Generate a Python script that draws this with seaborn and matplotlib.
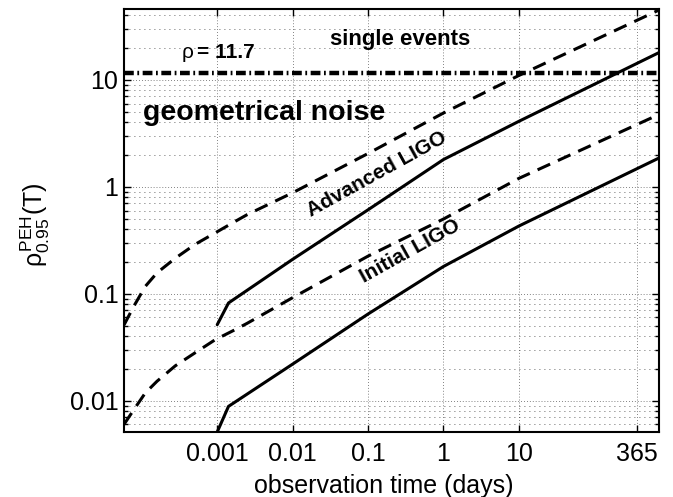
import numpy as np
import pandas as pd
import matplotlib
matplotlib.use('Agg')
import matplotlib.pyplot as plt
import seaborn as sns
from matplotlib.ticker import LogLocator, NullLocator, FixedLocator, FixedFormatter, NullFormatter

# observation time (days) and rho values
t_dashed = [5.8e-5, 7.8e-5, 1.11e-4, 1.59e-4, 2.78e-4, 5.1e-4, 9.4e-4, 1.73e-3, 2.5e-3, 0.01, 0.1, 1, 10, 720]
adv_dashed = [0.051, 0.076, 0.117, 0.157, 0.215, 0.290, 0.371, 0.475, 0.55, 0.88, 2.05, 4.9, 11.0, 45.0]
ini_dashed = [0.0060, 0.0082, 0.0118, 0.0152, 0.0212, 0.0281, 0.0372, 0.0462, 0.053, 0.092, 0.225, 0.50, 1.2, 4.75]

t_solid = [0.001, 0.00141, 0.01, 0.1, 1, 10, 720]
adv_solid = [0.0514, 0.082, 0.21, 0.61, 1.80, 4.1, 18.0]
ini_solid = [0.0051, 0.00885, 0.022, 0.0647, 0.180, 0.43, 1.86]

rho_threshold = 11.7

xticks = [0.001, 0.01, 0.1, 1, 10, 365]
xticklabels = ['0.001', '0.01', '0.1', '1', '10', '365']
yticks = [0.01, 0.1, 1, 10]
yticklabels = ['0.01', '0.1', '1', '10']

sns.set_style('ticks')
plt.rcParams['font.family'] = ['Liberation Sans', 'DejaVu Sans']
plt.rcParams['text.color'] = 'k'
plt.rcParams['axes.labelcolor'] = 'k'
plt.rcParams['xtick.color'] = 'k'
plt.rcParams['ytick.color'] = 'k'
plt.rcParams['mathtext.fontset'] = 'custom'
plt.rcParams['mathtext.rm'] = 'Liberation Sans'
plt.rcParams['mathtext.it'] = 'Liberation Sans'
plt.rcParams['mathtext.bf'] = 'Liberation Sans:bold'

fig = plt.figure(figsize=(6.73, 4.97), dpi=100)
ax = fig.add_axes([0.1842, 0.1308, 0.795, 0.8511])
ax.set_xscale('log')
ax.set_yscale('log')

dash = (0, (4.5, 2.8))
sns.lineplot(x=t_dashed, y=adv_dashed, ax=ax, color='k', lw=2.2, linestyle=dash)
sns.lineplot(x=t_dashed, y=ini_dashed, ax=ax, color='k', lw=2.2, linestyle=dash)
sns.lineplot(x=t_solid, y=adv_solid, ax=ax, color='k', lw=2.2)
sns.lineplot(x=t_solid, y=ini_solid, ax=ax, color='k', lw=2.2)
ax.axhline(rho_threshold, color='k', lw=3.2, linestyle=(0, (2.2, 0.8, 0.4, 0.8)))

ax.set_xlim(5.8e-5, 720)
ax.set_ylim(0.0051, 46)

ax.xaxis.set_major_locator(FixedLocator(xticks))
ax.xaxis.set_major_formatter(FixedFormatter(xticklabels))
ax.xaxis.set_minor_locator(NullLocator())
ax.yaxis.set_major_locator(FixedLocator(yticks))
ax.yaxis.set_major_formatter(FixedFormatter(yticklabels))
ax.yaxis.set_minor_locator(LogLocator(base=10, subs=np.arange(2, 10)))
ax.yaxis.set_minor_formatter(NullFormatter())

ax.grid(True, which='major', axis='both', color='0.35', ls=(0, (1, 2.5)), lw=0.6)
ax.grid(True, which='minor', axis='y', color='0.2', ls=(0, (1, 5)), lw=0.6)

ax.tick_params(which='both', direction='in', top=True, right=True, width=1, labelsize=18)
ax.tick_params(which='major', length=5)
ax.tick_params(which='minor', length=3)
ax.tick_params(axis='x', pad=7)
ax.tick_params(axis='y', pad=4)
for s in ax.spines.values():
    s.set_linewidth(1.5)
    s.set_color('k')

ax.set_xlabel('observation time (days)', fontsize=18)
ax.set_ylabel(r'$\rho^{\mathrm{PEH}}_{0.95}\mathrm{(T)}$', fontsize=18)
ax.xaxis.set_label_coords(0.485, -0.10)
ax.yaxis.set_label_coords(-0.135, 0.49)

# annotations
ax.text(0.130, 0.896, 'ρ', transform=ax.transAxes, fontsize=15, ha='right', va='center')
ax.text(0.137, 0.896, '= 11.7', transform=ax.transAxes, fontsize=15, fontweight='bold',
        ha='left', va='center')
ax.text(0.516, 0.927, 'single events', transform=ax.transAxes, fontsize=16,
        fontweight='bold', ha='center', va='center')
ax.text(0.0355, 0.754, 'geometrical noise', transform=ax.transAxes, fontsize=20.5,
        fontweight='bold', ha='left', va='center')
ax.text(0.1315, 1.30, 'Advanced LIGO', fontsize=15, fontweight='bold', rotation=29,
        ha='center', va='center', rotation_mode='anchor')
ax.text(0.36, 0.248, 'Initial LIGO', fontsize=15, fontweight='bold', rotation=29,
        ha='center', va='center', rotation_mode='anchor')

fig.savefig('out.png', dpi=100)
